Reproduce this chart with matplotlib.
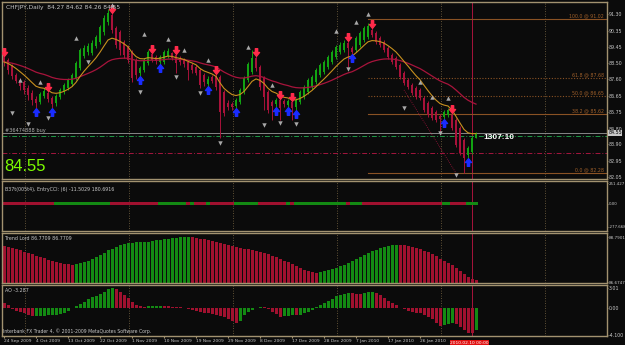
import numpy as np
import pandas as pd
import matplotlib
matplotlib.use("Agg")
import matplotlib.pyplot as plt
from matplotlib.path import Path
from matplotlib.transforms import blended_transform_factory

plt.rcParams['font.family'] = ['DejaVu Sans']

# ---------------- data ----------------
label_bars = [0, 8, 16, 24, 32, 40, 48, 56, 64, 72, 80, 88, 96, 104]
label_text = ['24 Sep 2009', '4 Oct 2009', '13 Oct 2009', '22 Oct 2009', '1 Nov 2009',
              '10 Nov 2009', '19 Nov 2009', '29 Nov 2009', '8 Dec 2009', '17 Dec 2009',
              '28 Dec 2009', '7 Jan 2010', '17 Jan 2010', '26 Jan 2010']

opens = [88.92, 88.69, 88.35, 87.84, 87.55, 87.44, 87.10, 86.82, 86.48, 86.31,
         86.65, 86.82, 86.53, 86.25, 86.59, 86.87, 87.10, 87.33, 87.67, 88.24,
         88.92, 89.14, 89.09, 89.48, 89.71, 90.28, 90.85, 91.24, 90.51, 90.28,
         89.71, 89.43, 89.14, 88.69, 87.95, 88.12, 88.52, 89.03, 88.86, 88.58,
         88.58, 88.92, 89.09, 88.97, 88.80, 88.69, 88.58, 88.41, 88.29, 88.12,
         87.84, 87.33, 87.72, 87.78, 87.72, 86.87, 86.25, 86.19, 86.08, 86.31,
         86.87, 87.55, 88.01, 88.80, 88.29, 87.67, 86.87, 86.31, 86.19, 86.42,
         86.36, 86.14, 86.31, 86.02, 86.31, 86.59, 86.87, 87.15, 87.44, 87.84,
         88.01, 88.29, 88.58, 88.86, 89.14, 89.26, 89.65, 89.37, 89.26, 89.54,
         89.82, 89.99, 90.39, 90.22, 89.94, 89.71, 89.37, 88.97, 88.80, 88.41,
         87.95, 87.55, 87.27, 87.10, 86.99, 86.53, 86.25, 85.96, 85.74, 85.51,
         85.45, 85.57, 85.57, 85.28, 84.83, 84.15, 83.30, 83.47, 84.27]
highs = [88.98, 88.80, 88.46, 87.95, 87.67, 87.55, 87.27, 86.99, 86.65, 86.87,
         87.10, 86.99, 86.65, 86.76, 87.10, 87.38, 87.67, 87.95, 88.63, 89.37,
         89.54, 89.65, 89.82, 90.11, 90.68, 91.24, 91.58, 91.41, 90.62, 90.39,
         89.82, 89.54, 89.26, 88.80, 88.35, 88.80, 89.26, 89.14, 88.97, 88.97,
         89.26, 89.37, 89.14, 89.09, 88.92, 88.80, 88.69, 88.52, 88.41, 88.24,
         87.95, 87.78, 87.84, 87.95, 87.84, 86.99, 86.42, 86.31, 86.53, 87.10,
         87.78, 88.58, 89.26, 88.97, 88.41, 87.78, 86.99, 86.42, 86.53, 86.53,
         86.48, 86.48, 86.42, 86.53, 86.99, 87.27, 87.67, 87.84, 88.24, 88.52,
         88.69, 88.97, 89.26, 89.54, 89.71, 89.82, 89.82, 89.48, 90.05, 90.33,
         90.62, 90.79, 90.56, 90.33, 90.05, 89.82, 89.48, 89.09, 88.92, 88.52,
         88.07, 87.67, 87.38, 87.21, 87.10, 86.65, 86.36, 86.08, 85.85, 85.62,
         85.85, 85.96, 85.74, 85.40, 84.94, 84.27, 83.81, 84.38, 84.62]
lows = [88.35, 87.90, 87.60, 87.38, 86.99, 86.76, 86.42, 86.14, 85.96, 86.19,
        86.53, 86.31, 85.96, 86.08, 86.48, 86.76, 86.99, 87.21, 87.55, 88.12,
        88.80, 88.97, 88.97, 89.37, 89.60, 90.11, 90.68, 90.22, 89.37, 88.97,
        88.80, 88.52, 87.44, 87.61, 87.78, 88.01, 88.41, 88.58, 88.46, 88.41,
        88.46, 88.80, 88.69, 87.95, 88.41, 88.29, 87.55, 87.95, 87.84, 87.10,
        87.21, 87.21, 87.38, 86.99, 84.27, 85.51, 85.85, 85.85, 85.96, 86.19,
        86.76, 87.44, 87.90, 88.07, 86.99, 85.85, 85.68, 85.28, 86.02, 85.28,
        86.02, 86.02, 85.28, 85.85, 86.19, 86.48, 86.76, 87.04, 87.33, 87.72,
        87.90, 88.18, 88.46, 88.75, 89.03, 89.14, 88.29, 89.03, 89.14, 89.43,
        89.71, 89.88, 89.99, 89.60, 89.43, 89.14, 88.75, 88.46, 88.18, 87.61,
        87.27, 87.04, 86.70, 86.48, 86.42, 85.74, 85.45, 85.28, 85.17, 84.55,
        85.34, 85.45, 84.72, 83.75, 83.30, 82.28, 83.13, 83.35, 84.26]
closes = [88.58, 88.12, 87.78, 87.50, 87.21, 86.99, 86.70, 86.42, 86.25, 86.76,
          86.93, 86.48, 86.19, 86.65, 86.99, 87.27, 87.55, 87.84, 88.52, 89.26,
          89.37, 89.48, 89.65, 89.99, 90.56, 91.07, 91.36, 90.39, 89.54, 89.26,
          88.97, 88.69, 87.67, 87.84, 88.24, 88.69, 89.14, 88.69, 88.63, 88.86,
          89.14, 89.20, 88.80, 88.52, 88.58, 88.46, 88.12, 88.12, 87.95, 87.27,
          87.44, 87.61, 87.50, 87.15, 85.74, 85.68, 86.02, 86.02, 86.42, 86.99,
          87.67, 88.46, 88.80, 88.24, 87.15, 86.59, 85.85, 86.08, 86.42, 85.96,
          86.19, 86.36, 85.96, 86.42, 86.87, 87.15, 87.55, 87.72, 88.12, 88.41,
          88.58, 88.86, 89.14, 89.43, 89.54, 89.65, 89.37, 89.14, 89.94, 90.22,
          90.51, 90.62, 90.11, 89.71, 89.54, 89.26, 88.86, 88.58, 88.29, 87.72,
          87.38, 87.15, 86.82, 86.59, 86.53, 85.85, 85.57, 85.40, 85.28, 85.34,
          85.74, 85.85, 84.83, 83.87, 83.41, 83.13, 83.70, 84.27, 84.55]

sell_bars = [0, 11, 27, 37, 43, 53, 63, 69, 72, 86, 92, 112]
buy_bars = [8, 12, 34, 39, 51, 58, 68, 71, 73, 87, 110, 116]

frac_up_bars = [4, 9, 18, 27, 35, 41, 45, 51, 61, 67, 83, 88, 91, 104, 107, 111]
frac_up_price = [87.55, 87.44, 89.94, 91.81, 90.16, 89.88, 89.26, 88.69, 89.43, 87.27,
                 90.33, 90.85, 91.30, 87.44, 86.59, 86.53]
frac_dn_bars = [2, 6, 11, 21, 34, 43, 49, 54, 65, 69, 73, 86, 100, 109, 113]
frac_dn_price = [85.68, 85.06, 85.40, 88.58, 86.87, 87.72, 86.82, 83.98, 85.00, 85.11,
                 85.06, 88.18, 85.96, 84.55, 82.16]

zz_bars = [100, 113]
zz_price = [86.99, 82.28]

fib_levels = [100.0, 61.8, 50.0, 38.2, 0.0]
fib_high, fib_low = 91.02, 82.28
fib_start = 91

bid_price = 84.55
order_price = 84.38
stop_price = 83.41

price_ticks = [91.30, 90.35, 89.45, 88.50, 87.60, 86.65, 85.75, 84.80, 83.90, 82.95, 82.05]

cci_state = ("RRRRRRRRRRRRR" "GGGGGGGGGGGGGG" "RRRRRRRRRRRR" "GGGGGGG" "R" "G" "RRR" "G"
             "RRRRRR" "GGGGGG" "RRRRRRR" "G" "R" "GGGGGGGGGGGGG" "R" "GGG"
             "RRRRRRRRRRRRRRRRRRRR" "GG" "RRRR" "GGG")

trend_lord = [88.36, 88.32, 88.28, 88.23, 88.16, 88.10, 88.04, 87.97, 87.91, 87.85,
              87.79, 87.73, 87.67, 87.62, 87.56, 87.53, 87.50, 87.49, 87.51, 87.55,
              87.61, 87.68, 87.75, 87.86, 87.95, 88.06, 88.17, 88.25, 88.33, 88.40,
              88.45, 88.49, 88.52, 88.54, 88.55, 88.57, 88.58, 88.60, 88.63, 88.66,
              88.69, 88.71, 88.73, 88.75, 88.77, 88.78, 88.79, 88.78, 88.75, 88.72,
              88.69, 88.65, 88.61, 88.56, 88.51, 88.46, 88.41, 88.36, 88.32, 88.28,
              88.24, 88.21, 88.17, 88.11, 88.07, 88.02, 87.97, 87.91, 87.83, 87.76,
              87.68, 87.60, 87.51, 87.42, 87.34, 87.26, 87.18, 87.14, 87.12, 87.16,
              87.19, 87.24, 87.29, 87.34, 87.41, 87.49, 87.58, 87.67, 87.77, 87.87,
              87.96, 88.04, 88.13, 88.20, 88.27, 88.33, 88.38, 88.41, 88.43, 88.42,
              88.40, 88.37, 88.33, 88.28, 88.22, 88.15, 88.07, 87.98, 87.88, 87.78,
              87.68, 87.58, 87.47, 87.35, 87.21, 87.06, 86.92, 86.82, 86.77]

ao = [0.81, 0.45, -0.20, -0.45, -0.60, -0.81, -1.06, -1.25, -1.21, -1.18,
      -1.15, -1.12, -1.08, -1.02, -0.90, -0.70, -0.45, 0.05, 0.30, 0.61,
      0.96, 1.31, 1.62, 1.87, 2.12, 2.47, 2.83, 2.98, 2.83, 2.42,
      1.97, 1.46, 0.96, 0.45, 0.30, 0.20, 0.25, 0.30, 0.32, 0.35,
      0.30, 0.25, 0.22, 0.18, 0.12, -0.05, -0.20, -0.30, -0.45, -0.56,
      -0.70, -0.81, -0.91, -1.06, -1.20, -1.41, -1.72, -2.00, -2.22, -1.92,
      -1.06, -0.56, -0.30, -0.05, 0.20, 0.10, -0.20, -0.56, -0.91, -1.31,
      -1.25, -1.15, -1.05, -1.12, -1.00, -0.81, -0.56, -0.30, 0.10, 0.45,
      0.80, 1.11, 1.40, 1.75, 2.00, 2.17, 2.25, 2.20, 2.18, 2.15,
      2.30, 2.42, 2.45, 2.22, 1.97, 1.46, 1.11, 0.75, 0.40, 0.05,
      -0.20, -0.40, -0.56, -0.70, -0.81, -1.10, -1.41, -1.72, -2.30, -2.73,
      -2.58, -2.40, -2.32, -2.45, -2.83, -3.33, -3.74, -3.84, -3.29]

now_bar = 117
now_label = '2010.02.10 00:00'
grid_bars = [5.25, 31.25, 57.25, 83.25, 109.25, 135.25]

# ---------------- styling ----------------
W, H = 625, 345
BG = '#0b0b0b'
FRAME = '#a29270'
GRID = '#7d6a45'
TXT = '#c8c8c8'
BULL = '#12a312'
BEAR = '#a8123a'
HG = '#138a13'
HR = '#a0112f'

fig = plt.figure(figsize=(W / 100, H / 100), dpi=100, facecolor=BG)


def panel(y0, y1, fs=3.4):
    ax = fig.add_axes([2 / W, 1 - y1 / H, 605 / W, (y1 - y0) / H])
    ax.set_facecolor(BG)
    for s in ax.spines.values():
        s.set_color(FRAME)
        s.set_linewidth(1.0)
    ax.set_xlim(-0.5, 150.75)
    ax.tick_params(axis='x', bottom=False, labelbottom=False)
    ax.yaxis.tick_right()
    ax.tick_params(axis='y', color=FRAME, labelcolor=TXT, labelsize=fs, length=0.8, pad=0.4, width=0.5)
    for b in grid_bars:
        ax.axvline(b, color=GRID, lw=0.6, ls=(0, (1, 2)), zorder=0)
    ax.axvline(now_bar, color='#a8143c', lw=0.7, zorder=1)
    return ax


x = np.arange(len(closes))
o = np.array(opens)
c = np.array(closes)
hi = np.array(highs)
lo = np.array(lows)

# ---------------- main price panel ----------------
ax = panel(2, 179)
ax.set_ylim(81.94, 91.98)
ax.set_yticks(price_ticks)
ax.set_yticklabels(['%.2f' % p for p in price_ticks])

up = c >= o
col = np.where(up, BULL, BEAR)
ax.vlines(x, lo, hi, colors=col, lw=0.7, zorder=3)
ax.bar(x, np.maximum(np.abs(c - o), 0.03), bottom=np.minimum(o, c), width=0.7,
       color=col, zorder=4)

fast = pd.Series(c).ewm(span=10, adjust=False).mean()
slow = pd.Series(c).ewm(span=34, adjust=False).mean()
ax.plot(x, slow, color='#a8143c', lw=0.9, zorder=5)
ax.plot(x, fast, color='#c8901e', lw=0.8, zorder=5)

# fibonacci
rng = fib_high - fib_low
trans = blended_transform_factory(ax.transAxes, ax.transData)
for lv in fib_levels:
    p = fib_low + lv / 100 * rng
    ls = (0, (1, 1.5)) if lv in (61.8, 50.0) else '-'
    ax.plot([fib_start, 150.75], [p, p], color='#8a5224', lw=0.8, ls=ls, zorder=2)
    ax.text(0.995, p + 0.03, '%.1f @ %.2f' % (lv, p), transform=trans, ha='right', va='bottom',
            fontsize=3.4, color='#a0602a', zorder=6)

# order / price lines
ax.axhline(bid_price, color='#9a9a9a', lw=0.6, zorder=2)
ax.axhline(order_price, color='#1e9a46', lw=0.7, ls=(0, (5, 2, 1, 2)), zorder=2)
ax.axhline(stop_price, color='#a3163e', lw=0.7, ls=(0, (5, 2, 1, 2)), zorder=2)
ax.plot(zz_bars, zz_price, color='#a0143c', lw=0.6, ls=(0, (1, 1.5)), zorder=2)

# signal arrows
dn = Path([(-0.3, 1), (0.3, 1), (0.3, 0), (0.8, 0), (0, -1), (-0.8, 0), (-0.3, 0), (-0.3, 1)],
          [Path.MOVETO] + [Path.LINETO] * 6 + [Path.CLOSEPOLY])
upp = Path([(-0.3, -1), (0.3, -1), (0.3, 0), (0.8, 0), (0, 1), (-0.8, 0), (-0.3, 0), (-0.3, -1)],
           [Path.MOVETO] + [Path.LINETO] * 6 + [Path.CLOSEPOLY])
ax.plot(sell_bars, hi[sell_bars] + 0.15, ls='none', marker=dn, ms=5.5, color='#ff2a4a', zorder=7)
ax.plot(buy_bars, lo[buy_bars] - 0.2, ls='none', marker=upp, ms=5.5, color='#1a2cff', zorder=7)
ax.plot(frac_up_bars, frac_up_price, ls='none', marker='^', ms=3.2, color='#a8a8a8', mec='none', zorder=7)
ax.plot(frac_dn_bars, frac_dn_price, ls='none', marker='v', ms=3.2, color='#a8a8a8', mec='none', zorder=7)

ax.annotate('%.2f' % bid_price, xy=(1, bid_price), xycoords=trans, xytext=(1.0, 0),
            textcoords='offset points', ha='left', va='center', fontsize=3.4, color='black',
            bbox=dict(fc='#c8c8c8', ec='none', pad=0.3), annotation_clip=False, zorder=9)

fig.text(6 / W, 1 - 7 / H, 'CHFJPY,Daily  84.27 84.62 84.26 84.55', fontsize=4.2, color=TXT, va='center')
fig.text(5 / W, 1 - 131 / H, '#36474888 buy', fontsize=3.6, color='#b0b0b0', va='center')
fig.text(4 / W, 1 - 171 / H, '84.55', fontsize=12, color='#7cfc00', family='Liberation Sans', va='baseline')
fig.text(483 / W, 1 - 137 / H, '1307:10', fontsize=6, color='white', family='Liberation Sans',
         fontweight='bold', va='center')

# ---------------- CCI strip ----------------
ax2 = panel(181, 231, fs=2.9)
ax2.set_ylim(-325.8, 275.5)
ax2.set_yticks([251.427, 0, -277.668])
ax2.set_yticklabels(['251.427', '0.00', '-277.668'])
ccol = [HG if s == 'G' else HR for s in cci_state]
ax2.bar(x, 36, bottom=-18, width=0.85, color=ccol)
fig.text(5 / W, 1 - 190 / H, 'B37t(005t4), EntryCCI: (6) -11.5029 180.6916', fontsize=3.4, color=TXT, va='center')

# ---------------- Trend Lord ----------------
ax3 = panel(233, 283, fs=3.0)
tl = np.array(trend_lord)
ax3.set_ylim(86.628, 88.98)
ax3.set_yticks([88.7901, 86.6747])
ax3.set_yticklabels(['88.7901', '86.6747'])
tcol = [HR] + [HG if tl[i] > tl[i - 1] else HR for i in range(1, len(tl))]
base = ax3.get_ylim()[0]
ax3.bar(x, tl - base, bottom=base, width=0.75, color=tcol)
fig.text(5 / W, 1 - 238 / H, 'Trend Lord 86.7709 86.7709', fontsize=3.4, color=TXT, va='center')

# ---------------- Awesome oscillator ----------------
ax4 = panel(285, 336)
a = np.array(ao)
ax4.set_ylim(-4.24, 3.48)
ax4.set_yticks([3.01, 0, -4.1])
ax4.set_yticklabels(['3.01', '0.00', '-4.100'])
acol = [HR] + [HG if a[i] > a[i - 1] else HR for i in range(1, len(a))]
ax4.bar(x, a, width=0.75, color=acol)
fig.text(5 / W, 1 - 291 / H, 'AO -3.287', fontsize=3.4, color=TXT, va='center')
fig.text(3 / W, 1 - 331 / H, 'Interbank FX Trader 4, \u00a9 2001-2009 MetaQuotes Software Corp.',
         fontsize=3.3, color=TXT, va='center')

ax4.set_xticks(label_bars)
ax4.set_xticklabels(label_text, ha='left')
ax4.tick_params(axis='x', bottom=True, labelbottom=True, labelsize=3.2, labelcolor=TXT,
                color=FRAME, length=1.5, pad=1)
ax4.annotate(now_label, xy=(now_bar, 0), xycoords=('data', 'axes fraction'), xytext=(-2, -3.5),
             textcoords='offset points', ha='center', va='top', fontsize=3.2, color='white',
             bbox=dict(fc='#e01010', ec='none', pad=0.3), annotation_clip=False)

fig.savefig('out.png', dpi=100, facecolor=BG)
